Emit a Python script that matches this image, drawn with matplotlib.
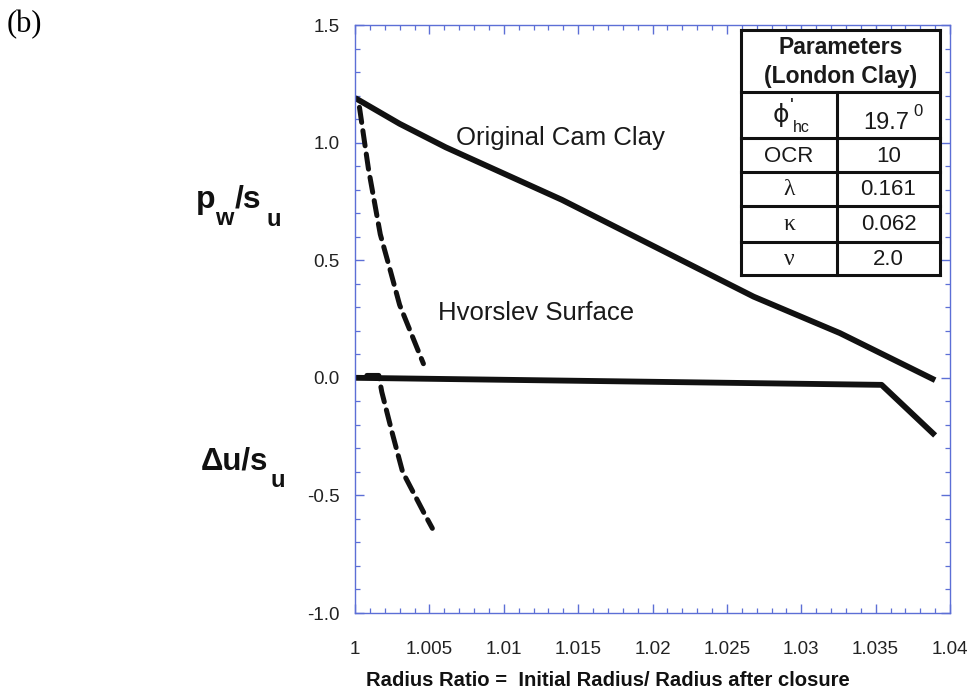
import matplotlib
matplotlib.use("Agg")
import matplotlib.pyplot as plt
from matplotlib.ticker import MultipleLocator, FixedLocator, FixedFormatter
from matplotlib.lines import Line2D

plt.rcParams['font.family'] = ['Liberation Sans', 'DejaVu Sans']
plt.rcParams['lines.scale_dashes'] = False

# ---- data -------------------------------------------------------------
# Original Cam Clay: wall pressure (solid, upper) and excess pore pressure (solid, lower)
occ_p_x = [1.0, 1.003, 1.0061, 1.0139, 1.0268, 1.0326, 1.039]
occ_p_y = [1.19, 1.08, 0.98, 0.757, 0.345, 0.19, -0.01]
occ_u_x = [1.0, 1.0354, 1.039]
occ_u_y = [0.0, -0.03, -0.245]

# Hvorslev surface model (dashed)
hv_p_x = [1.0003, 1.0009, 1.0017, 1.0024, 1.0030, 1.0046]
hv_p_y = [1.15, 0.89, 0.61, 0.45, 0.31, 0.06]
hv_u_x = [1.0008, 1.0016, 1.0018, 1.0025, 1.0032, 1.0046, 1.0052]
hv_u_y = [0.01, 0.01, -0.06, -0.234, -0.40, -0.57, -0.64]

x_ticks = [1.0, 1.005, 1.01, 1.015, 1.02, 1.025, 1.03, 1.035, 1.04]
x_tick_labels = ['1', '1.005', '1.01', '1.015', '1.02', '1.025', '1.03', '1.035', '1.04']
y_ticks = [-1.0, -0.5, 0.0, 0.5, 1.0, 1.5]
y_tick_labels = ['-1.0', '-0.5', '0.0', '0.5', '1.0', '1.5']

table_title = ['Parameters', '(London Clay)']
param_values = ['19.7', '10', '0.161', '0.062', '2.0']

# ---- figure -----------------------------------------------------------
W, H = 968, 700
fig = plt.figure(figsize=(W / 100, H / 100), dpi=100)


def fx(x):
    return x / W


def fy(y):
    return 1 - y / H


ax_l, ax_r, ax_t, ax_b = 355, 950, 25, 613
ax = fig.add_axes([fx(ax_l), fy(ax_b), (ax_r - ax_l) / W, (ax_b - ax_t) / H])

ax.set_xlim(1.0, 1.04)
ax.set_ylim(-1.0, 1.5)

solid_kw = dict(color='#111111', lw=4.2, solid_capstyle='butt', solid_joinstyle='round')
dash_kw = dict(color='#111111', lw=3.6, dashes=(11, 6), dash_capstyle='round')
ax.plot(occ_p_x, occ_p_y, **solid_kw)
ax.plot(occ_u_x, occ_u_y, **solid_kw)
ax.plot(hv_p_x, hv_p_y, **dash_kw)
ax.plot(hv_u_x, hv_u_y, **dash_kw)

blue = '#5c6fd6'
for s in ax.spines.values():
    s.set_color(blue)
    s.set_linewidth(1.0)

ax.xaxis.set_major_locator(FixedLocator(x_ticks))
ax.xaxis.set_major_formatter(FixedFormatter(x_tick_labels))
ax.xaxis.set_minor_locator(MultipleLocator(0.001))
ax.yaxis.set_major_locator(FixedLocator(y_ticks))
ax.yaxis.set_major_formatter(FixedFormatter(y_tick_labels))
ax.yaxis.set_minor_locator(MultipleLocator(0.1))

ax.tick_params(which='both', direction='in', color=blue, top=True, right=True,
               labelcolor='#222222', labelsize=13.5)
ax.tick_params(which='major', length=6.5, width=1.0)
ax.tick_params(which='minor', length=3.5, width=0.9)
ax.tick_params(axis='x', which='major', pad=20)
ax.tick_params(axis='y', which='major', pad=11)

# ---- curve labels -----------------------------------------------------
ax.text(1.0068, 1.02, 'Original Cam Clay', fontsize=18.5, color='#1a1a1a',
        ha='left', va='center', zorder=5)
ax.text(1.0056, 0.275, 'Hvorslev Surface', fontsize=18.5, color='#1a1a1a',
        ha='left', va='center', zorder=5)

# ---- axis labels ------------------------------------------------------
bold = dict(fontweight='bold', color='#111111')
fig.text(fx(196), fy(208), 'p', fontsize=23, ha='left', va='baseline', **bold)
fig.text(fx(215), fy(225), 'w', fontsize=17, ha='left', va='baseline', **bold)
fig.text(fx(235), fy(208), '/s', fontsize=23, ha='left', va='baseline', **bold)
fig.text(fx(266), fy(226), 'u', fontsize=17, ha='left', va='baseline', **bold)

fig.text(fx(201), fy(469), 'Δu/s', fontsize=22.5, ha='left', va='baseline', **bold)
fig.text(fx(270), fy(487), 'u', fontsize=17, ha='left', va='baseline', **bold)

fig.text(fx(608), fy(680), 'Radius Ratio =  Initial Radius/ Radius after closure',
         fontsize=14.6, ha='center', va='center', **bold)

fig.text(fx(7), fy(25), '(b)', fontsize=22, ha='left', va='center',
         family=['Liberation Serif', 'DejaVu Serif'])

# ---- parameter table --------------------------------------------------
tl, tm, tr = 741, 837, 940
row_edges = [30, 92, 138, 172, 206, 242, 275]
tab_lw = 2.2
tab_col = '#111111'


def hline(y, x0, x1):
    fig.add_artist(Line2D([fx(x0), fx(x1)], [fy(y), fy(y)], lw=tab_lw,
                          color=tab_col, transform=fig.transFigure, zorder=10))


def vline(x, y0, y1):
    fig.add_artist(Line2D([fx(x), fx(x)], [fy(y0), fy(y1)], lw=tab_lw,
                          color=tab_col, transform=fig.transFigure, zorder=10))


# white backing so axis ticks do not show through the table
fig.patches.append(plt.Rectangle((fx(tl), fy(row_edges[-1])), (tr - tl) / W,
                                 (row_edges[-1] - row_edges[0]) / H,
                                 transform=fig.transFigure, facecolor='white',
                                 edgecolor='none', zorder=9))
for y in row_edges:
    hline(y, tl, tr)
vline(tl, row_edges[0], row_edges[-1])
vline(tr, row_edges[0], row_edges[-1])
vline(tm, row_edges[1], row_edges[-1])

cx_l = (tl + tm) / 2
cx_r = (tm + tr) / 2
tkw = dict(fontsize=16, color='#1a1a1a', ha='center', va='center', zorder=11)
fig.text(fx((tl + tr) / 2), fy(47), table_title[0], fontsize=16.5, fontweight='bold',
         color='#1a1a1a', ha='center', va='center', zorder=11)
fig.text(fx((tl + tr) / 2), fy(76), table_title[1], fontsize=16.5, fontweight='bold',
         color='#1a1a1a', ha='center', va='center', zorder=11)

# row 1: phi'_hc and 19.7 degrees
fig.text(fx(781), fy(115), 'ϕ', fontsize=18, color='#1a1a1a', ha='center', va='center',
         zorder=11, family=['DejaVu Sans'])
fig.text(fx(792), fy(106), "'", fontsize=15, color='#1a1a1a', ha='center', va='center', zorder=11)
fig.text(fx(801), fy(127), 'hc', fontsize=11.5, color='#1a1a1a', ha='center', va='center', zorder=11)
fig.text(fx(886), fy(123), param_values[0], fontsize=17, color='#1a1a1a', ha='center',
         va='center', zorder=11)
fig.text(fx(918), fy(112), '0', fontsize=12, color='#1a1a1a', ha='center', va='center', zorder=11)

row_names = ['OCR', 'λ', 'κ', 'ν']
for i, name in enumerate(row_names):
    yc = (row_edges[i + 2] + row_edges[i + 3]) / 2 + 1
    if i == 0:
        fig.text(fx(cx_l), fy(yc), name, **tkw)
    else:
        fig.text(fx(cx_l), fy(yc), name, fontsize=17, color='#1a1a1a', ha='center',
                 va='center', zorder=11, family=['Liberation Serif', 'DejaVu Serif'])
    fig.text(fx(cx_r), fy(yc), param_values[i + 1], **tkw)

fig.savefig('out.png', dpi=100, facecolor='white')
